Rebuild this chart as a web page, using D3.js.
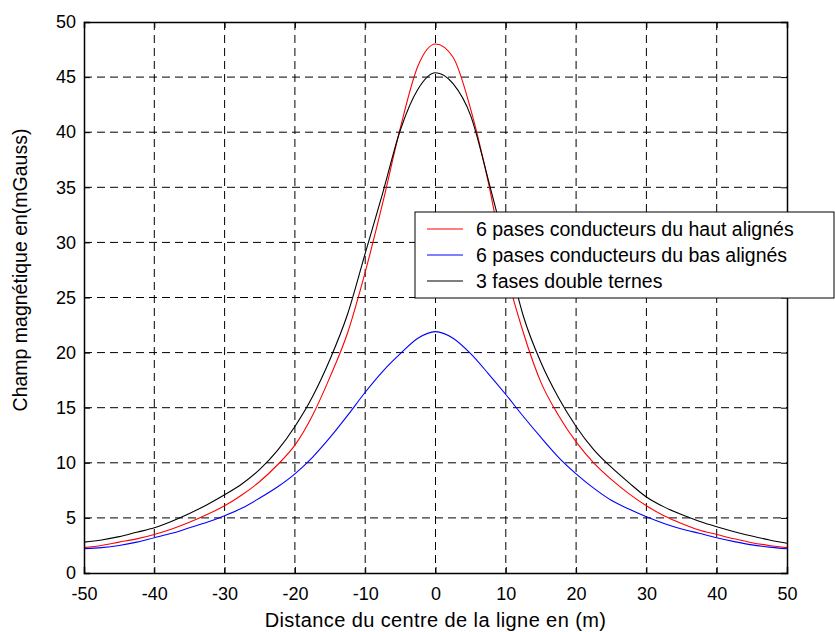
<!DOCTYPE html>
<html>
<head>
<meta charset="utf-8">
<script src="https://cdn.jsdelivr.net/npm/d3@7"></script>
<style>
  body { margin: 0; background: #fff; }
  svg { display: block; font-family: "Liberation Sans", Arial, sans-serif; }
</style>
</head>
<body>
<svg id="chart" width="835" height="632"></svg>
<script>
// distance from line centre (m)
const distances = [-50, -47.5, -45, -42.5, -40, -37.5, -35, -32.5, -30, -27.5, -25, -22.5, -20, -17.5, -15, -12.5, -10, -7.5, -5, -2.5,
  0, 2.5, 5, 7.5, 10, 12.5, 15, 17.5, 20, 22.5, 25, 27.5, 30, 32.5, 35, 37.5, 40, 42.5, 45, 47.5, 50];

// field in mGauss
const hautAlignes = [2.3, 2.5, 2.8, 3.1, 3.5, 4.0, 4.6, 5.3, 6.1, 7.1, 8.3, 9.8, 11.6, 14.3, 17.8, 21.8, 27.3, 33.6, 40.4, 46.0,
  48.0, 46.8, 42.1, 35.5, 27.5, 21.8, 17.3, 14.3, 11.9, 10.0, 8.5, 7.2, 6.1, 5.2, 4.5, 3.9, 3.5, 3.1, 2.75, 2.5, 2.3];
const basAlignes = [2.2, 2.3, 2.5, 2.8, 3.2, 3.6, 4.1, 4.6, 5.2, 5.9, 6.8, 7.8, 9.0, 10.5, 12.3, 14.3, 16.4, 18.3, 19.9, 21.3,
  21.9, 21.3, 19.9, 18.1, 16.2, 14.2, 12.3, 10.5, 9.0, 7.7, 6.6, 5.8, 5.1, 4.5, 4.0, 3.6, 3.2, 2.85, 2.55, 2.35, 2.2];
const doubleTernes = [2.8, 3.0, 3.3, 3.7, 4.1, 4.7, 5.4, 6.2, 7.1, 8.1, 9.4, 11.1, 13.3, 16.0, 19.4, 23.5, 29.0, 34.5, 40.2, 43.9,
  45.4, 44.4, 41.5, 35.7, 29.5, 23.3, 19.1, 15.9, 13.3, 11.2, 9.6, 8.2, 6.9, 6.0, 5.3, 4.7, 4.2, 3.75, 3.35, 3.0, 2.7];

const seriesNames = ["6 pases conducteurs du haut alignés", "6 pases conducteurs du bas alignés", "3 fases double ternes"];
const seriesColors = ["#ff0000", "#0000ff", "#000000"];
const xTicks = [-50, -40, -30, -20, -10, 0, 10, 20, 30, 40, 50];
const yTicks = [0, 5, 10, 15, 20, 25, 30, 35, 40, 45, 50];

const margin = {top: 22, right: 48, bottom: 59, left: 84};
const fullWidth = 835, fullHeight = 632;
const width = fullWidth - margin.left - margin.right;
const height = fullHeight - margin.top - margin.bottom;

const svg = d3.select("#chart");
const g = svg.append("g").attr("transform", `translate(${margin.left},${margin.top})`);

const x = d3.scaleLinear().domain([-50, 50]).range([0, width]);
const y = d3.scaleLinear().domain([0, 50]).range([height, 0]);

// grid
g.append("g").selectAll("line")
  .data(xTicks.slice(1, -1))
  .enter().append("line")
    .attr("x1", d => x(d)).attr("x2", d => x(d))
    .attr("y1", 0).attr("y2", height)
    .attr("stroke", "#000").attr("stroke-width", 1)
    .attr("stroke-dasharray", "8,5");
g.append("g").selectAll("line")
  .data(yTicks.slice(1, -1))
  .enter().append("line")
    .attr("x1", 0).attr("x2", width)
    .attr("y1", d => y(d)).attr("y2", d => y(d))
    .attr("stroke", "#000").attr("stroke-width", 1)
    .attr("stroke-dasharray", "8,5");

// curves
const allSeries = [hautAlignes, basAlignes, doubleTernes];
const line = d3.line()
  .x(d => x(d[0]))
  .y(d => y(d[1]))
  .curve(d3.curveMonotoneX);

allSeries.forEach((vals, i) => {
  g.append("path")
    .datum(distances.map((d, k) => [d, vals[k]]))
    .attr("fill", "none")
    .attr("stroke", seriesColors[i])
    .attr("stroke-width", 1.1)
    .attr("d", line);
});

// axes (box with inward ticks), plain hyphen for negatives
const fmt = d => String(d);
const xAxis = d3.axisBottom(x).tickValues(xTicks).tickSize(-6).tickPadding(14).tickFormat(fmt);
const yAxis = d3.axisLeft(y).tickValues(yTicks).tickSize(-6).tickPadding(8).tickFormat(fmt);
const xTop = d3.axisTop(x).tickValues(xTicks).tickSize(-6).tickFormat("");
const yRight = d3.axisRight(y).tickValues(yTicks).tickSize(-6).tickFormat("");

const ax = [
  g.append("g").attr("transform", `translate(0,${height})`).call(xAxis),
  g.append("g").call(yAxis),
  g.append("g").call(xTop),
  g.append("g").attr("transform", `translate(${width},0)`).call(yRight)
];
ax.forEach(a => {
  a.select(".domain").attr("stroke", "#000").attr("stroke-width", 1.5);
  a.selectAll(".tick line").attr("stroke", "#000");
  a.selectAll("text").attr("fill", "#000").style("font-size", "18px")
    .style("font-family", "'Liberation Sans', Arial, sans-serif");
});

// axis titles
svg.append("text")
  .attr("x", margin.left + width / 2)
  .attr("y", 627)
  .attr("text-anchor", "middle")
  .style("font-size", "20px")
  .style("letter-spacing", "0.4px")
  .text("Distance du centre de la ligne en (m)");

svg.append("text")
  .attr("transform", "translate(27,270) rotate(-90)")
  .attr("text-anchor", "middle")
  .style("font-size", "19.5px")
  .text("Champ magnétique en(mGauss)");

// legend
const legend = svg.append("g").attr("transform", "translate(415,212)");
legend.append("rect")
  .attr("width", 419).attr("height", 86)
  .attr("fill", "#fff").attr("stroke", "#000").attr("stroke-width", 1);
const items = legend.selectAll("g.item")
  .data(seriesNames)
  .enter().append("g")
    .attr("class", "item")
    .attr("transform", (_, i) => `translate(0,${17 + i * 26})`);
items.append("line")
  .attr("x1", 12).attr("x2", 48)
  .attr("stroke", (_, i) => seriesColors[i])
  .attr("stroke-width", 1.1);
items.append("text")
  .attr("x", 61).attr("y", 7)
  .style("font-size", "19.5px")
  .text(d => d);
</script>
</body>
</html>
